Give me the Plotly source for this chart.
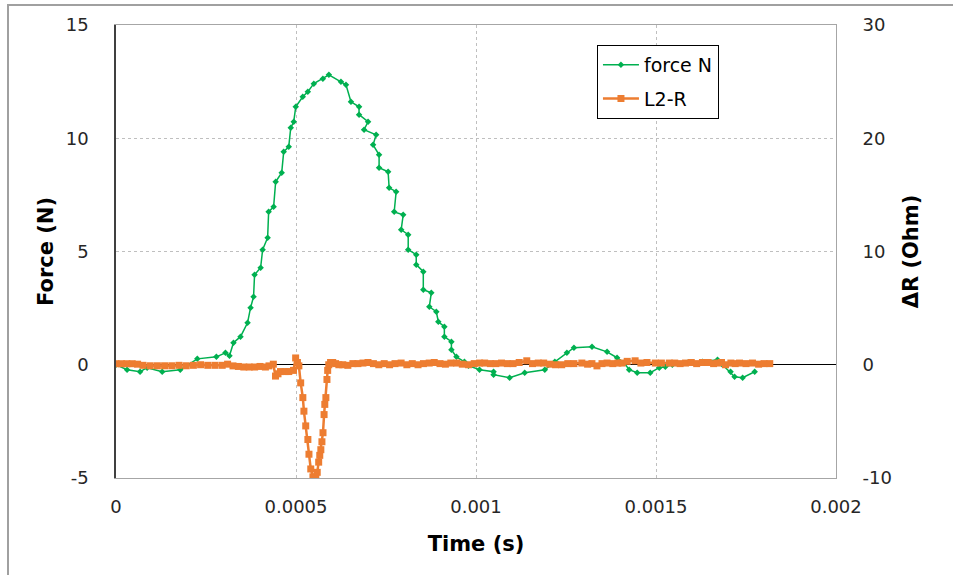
import plotly.graph_objects as go

# ---------------- data ----------------
force_t_us = [0, 30.7, 66.9, 86.4, 128.3, 178.5, 225.9, 278.9, 304.0, 315.2, 326.3, 345.9,
              365.4, 373.8, 382.1, 384.9, 401.7, 407.3, 421.2, 424.0, 437.9, 443.5, 460.3,
              465.8, 479.8, 485.4, 493.7, 499.3, 518.8, 532.8, 549.5, 574.6, 591.4, 624.8,
              638.8, 652.7, 675.1, 675.1, 700.2, 689.0, 722.5, 714.1, 730.8, 730.8, 755.9,
              758.7, 778.2, 772.7, 797.8, 792.2, 811.7, 811.7, 834.0, 834.0, 853.6, 853.6,
              875.9, 870.3, 889.8, 895.4, 912.1, 912.1, 931.7, 931.7, 945.6, 967.9, 979.1,
              1009.8, 1048.8, 1048.8, 1093.4, 1135.3, 1191.1, 1219.0, 1252.4, 1272.0, 1322.2,
              1364.0, 1391.9, 1411.4, 1425.4, 1447.7, 1484.0, 1509.1, 1525.8, 1545.3, 1587.2,
              1629.0, 1670.9, 1684.8, 1707.1, 1718.3, 1740.6, 1774.1]
force_N = [0, -0.22, -0.31, -0.13, -0.31, -0.22, 0.26, 0.35, 0.53, 0.40, 0.97, 1.24,
           1.85, 2.52, 3.00, 3.97, 4.28, 5.08, 5.61, 6.75, 6.98, 8.08, 8.48,
           9.40, 9.62, 10.46, 10.73, 11.39, 11.83, 12.05, 12.41, 12.63, 12.80, 12.49,
           12.36, 11.61, 11.39, 11.04, 10.73, 10.38, 10.15, 9.71, 9.27, 8.70, 8.52,
           7.81, 7.64, 6.75, 6.62, 5.96, 5.74, 5.08, 4.86, 4.42, 4.11, 3.31,
           3.18, 2.56, 2.34, 1.90, 1.68, 1.24, 1.02, 0.66, 0.35, 0.13, -0.04,
           -0.22, -0.31, -0.44, -0.57, -0.35, -0.22, 0.13, 0.53, 0.75, 0.79,
           0.57, 0.31, 0.09, -0.22, -0.35, -0.35, -0.13, -0.09, 0.0, 0.09,
           0.13, 0.22, 0.0, -0.31, -0.53, -0.57, -0.31]

r_t_us = [0, 15, 30, 45, 60, 75, 95, 115, 135, 155, 175, 195, 215, 235, 255, 275, 295, 310,
          325, 340, 355, 370, 385, 400, 415, 425, 437, 443, 450, 457, 470, 480, 493, 499,
          504, 508, 513, 519, 522, 527, 533, 536, 541, 547, 551, 555, 559, 563, 566, 569,
          572, 575, 578, 580, 583, 586, 588, 591, 596, 602, 610, 619, 630, 644, 658, 672,
          686, 700, 715, 730, 745, 760, 775, 792, 808, 823, 839, 854, 870, 884, 900, 915,
          930, 946, 962, 979, 995, 1010, 1024, 1040, 1055, 1071, 1087, 1103, 1120, 1141,
          1157, 1173, 1188, 1205, 1221, 1238, 1255, 1272, 1294, 1310, 1322, 1336, 1350,
          1364, 1380, 1394, 1406, 1420, 1442, 1458, 1475, 1498, 1515, 1537, 1552, 1567,
          1582, 1598, 1613, 1629, 1645, 1660, 1671, 1682, 1693, 1708, 1720, 1732, 1750,
          1768, 1785, 1800, 1816]
r_ohm = [0.09, 0.09, 0.09, 0.09, 0.05, -0.05, -0.09, -0.09, -0.09, -0.09, -0.05, -0.09,
         -0.05, 0.0, -0.05, -0.05, -0.05, 0.05, -0.1, -0.15, -0.2, -0.2, -0.2, -0.15, -0.2,
         -0.1, 0.05, -1.0, -0.8, -0.6, -0.6, -0.6, -0.5, 0.6, 0.2, -0.1, -1.6, -2.9, -4.1,
         -5.4, -6.6, -7.9, -9.2, -9.9, -10.0, -9.9, -9.5, -8.6, -8.0, -7.5, -6.8, -6.0,
         -4.4, -3.5, -2.9, -1.3, -0.5, 0.0, 0.2, 0.2, 0.1, 0.0, 0.0, -0.05, 0.1, 0.1,
         0.15, 0.2, 0.1, 0.0, 0.1, 0.0, 0.1, 0.15, 0.0, 0.1, 0.0, 0.1, 0.15, 0.2, 0.1, 0.05,
         0.15, 0.15, 0.05, 0.0, 0.1, 0.15, 0.15, 0.1, 0.1, 0.15, 0.1, 0.1, 0.2, 0.35,
         0.1, 0.15, 0.15, 0.05, 0.0, 0.0, 0.1, 0.1, 0.15, 0.05, 0.1, -0.1, 0.1,
         0.15, 0.1, 0.15, 0.15, 0.3, 0.35, 0.15, 0.2, 0.15, 0.15, 0.15, 0.15, 0.1,
         0.15, 0.2, 0.1, 0.2, 0.2, 0.1, 0.15, 0.2, 0.0, 0.15, 0.1, 0.15, 0.1,
         0.15, 0.05, 0.1, 0.1]

x_tick_vals = [0, 0.0005, 0.001, 0.0015, 0.002]
x_tick_text = ["0", "0.0005", "0.001", "0.0015", "0.002"]
y1_tick_vals = [-5, 0, 5, 10, 15]
y1_tick_text = ["-5", "0", "5", "10", "15"]
y2_tick_vals = [-10, 0, 10, 20, 30]
y2_tick_text = ["-10", "0", "10", "20", "30"]

force_t = [v * 1e-6 for v in force_t_us]
r_t = [v * 1e-6 for v in r_t_us]

GREEN = "#00B050"
ORANGE = "#ED7D31"
FONT = "DejaVu Sans"
TICKFONT = dict(family=FONT, size=18, color="#262626")
TITLEFONT = dict(family=FONT, size=21, color="#000000")

fig = go.Figure()
fig.add_trace(go.Scatter(
    x=force_t, y=force_N, name="force N", mode="lines+markers",
    line=dict(color=GREEN, width=1.5),
    marker=dict(symbol="diamond", size=5, color=GREEN),
    legendgroup="a", yaxis="y"))
fig.add_trace(go.Scatter(
    x=r_t, y=r_ohm, name="L2-R", mode="lines+markers",
    line=dict(color=ORANGE, width=2.5),
    marker=dict(symbol="square", size=7, color=ORANGE),
    legendgroup="b", yaxis="y2"))

fig.update_layout(
    width=953, height=575,
    margin=dict(l=116, r=117, t=25, b=97),
    paper_bgcolor="white", plot_bgcolor="white",
    font=dict(family=FONT, size=18, color="#000000"),
    showlegend=True,
    legend=dict(x=0.668, y=0.956, xanchor="left", yanchor="top",
                bordercolor="#000000", borderwidth=1, bgcolor="white",
                font=dict(family=FONT, size=19),
                tracegroupgap=6, traceorder="grouped", itemwidth=36),
    xaxis=dict(range=[0, 0.002], tickmode="array", tickvals=x_tick_vals,
               ticktext=x_tick_text, showgrid=True, gridcolor="#BFBFBF",
               griddash="dot", gridwidth=1, showline=True, linecolor="#A6A6A6",
               linewidth=1, mirror=True, zeroline=False, ticks="",
               ticklabelstandoff=12, tickfont=TICKFONT, automargin=False,
               title=dict(text="<b>Time (s)</b>", font=TITLEFONT, standoff=20)),
    yaxis=dict(range=[-5, 15], tickmode="array", tickvals=y1_tick_vals,
               ticktext=y1_tick_text,
               showgrid=True, gridcolor="#BFBFBF", griddash="dot", gridwidth=1,
               showline=True, linecolor="#404040", linewidth=1.5,
               zeroline=True, zerolinecolor="#000000", zerolinewidth=1,
               ticks="", ticklabelstandoff=22, tickfont=TICKFONT, automargin=False,
               title=dict(text="<b>Force (N)</b>", font=TITLEFONT, standoff=6)),
    yaxis2=dict(range=[-10, 30], tickmode="array", tickvals=y2_tick_vals,
                ticktext=y2_tick_text,
                overlaying="y", side="right", showgrid=False,
                showline=True, linecolor="#A6A6A6", linewidth=1,
                zeroline=False, ticks="", ticklabelstandoff=22, tickfont=TICKFONT,
                automargin=False,
                title=dict(text="<b>ΔR (Ohm)</b>", font=TITLEFONT, standoff=12)),
    shapes=[dict(type="rect", xref="paper", yref="paper",
                 x0=-0.15, x1=1.2, y0=-0.3, y1=1.044,
                 line=dict(color="#A0A0A0", width=2), layer="below")],
)

fig.write_html("out.html", config={"displayModeBar": False},
               post_script="document.body.style.margin='0';")
